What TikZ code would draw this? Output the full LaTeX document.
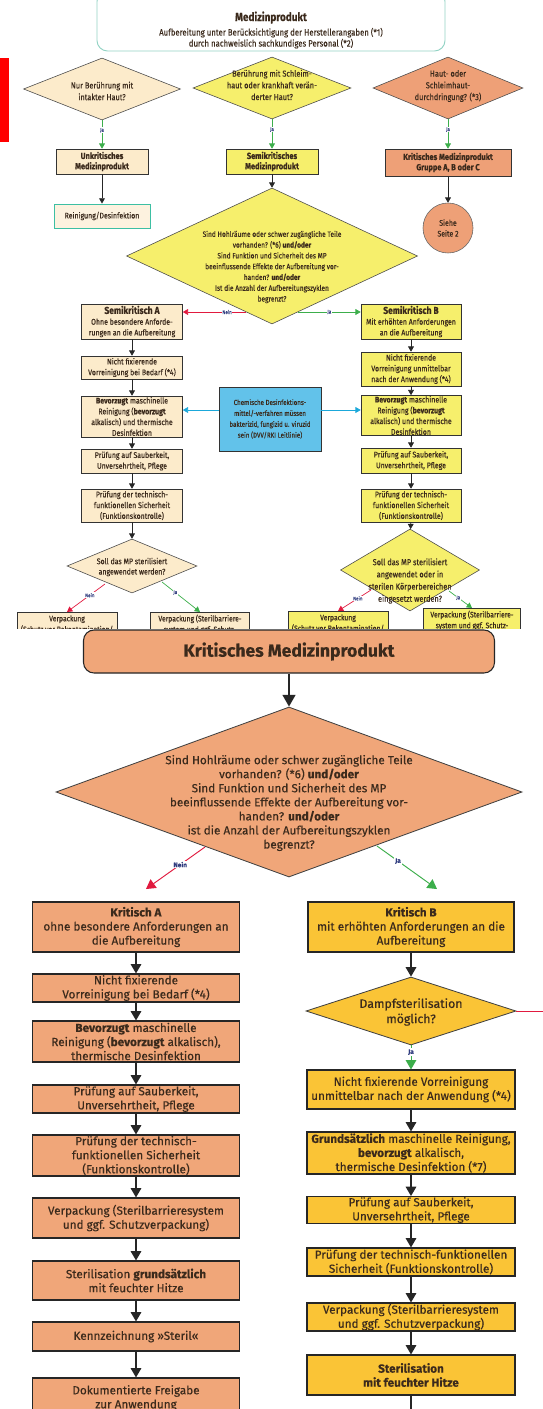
\documentclass[tikz,border=0pt]{standalone}
\usepackage{fontspec}
\setmainfont{Fira Sans}[FakeBold=0.35]
\newfontfamily\condfont[FakeStretch=0.85,FakeBold=0.35]{Fira Sans}
\usetikzlibrary{shapes.geometric,arrows.meta}

\definecolor{txt}{HTML}{3B2A1C}
\definecolor{beige}{HTML}{FCEBCB}
\definecolor{beigel}{HTML}{FDF2DF}
\definecolor{yel}{HTML}{F6EF6C}
\definecolor{salm}{HTML}{EEA077}
\definecolor{salmb}{HTML}{F0A679}
\definecolor{gold}{HTML}{FAC436}
\definecolor{blu}{HTML}{62C2EA}
\definecolor{cyn}{HTML}{1BA8DA}
\definecolor{teall}{HTML}{93D3C4}
\definecolor{teald}{HTML}{3DBFA3}
\definecolor{nred}{HTML}{E11A3F}
\definecolor{ngreen}{HTML}{3CAE4B}
\definecolor{labc}{HTML}{2E3B7E}

\begin{document}
\begin{tikzpicture}[x=0.03cm,y=-0.03cm,
    sz/.style 2 args={minimum width=#1*0.03cm,minimum height=#2*0.03cm},
    sbox/.style={draw=black!80,line width=0.5pt,inner sep=0.5pt,align=center,text=txt,
      font=\condfont\fontsize{7}{9.2}\selectfont},
    lbox/.style={draw=black!85,line width=0.9pt,inner sep=0.5pt,align=center,text=txt,
      font=\fontsize{10}{12}\selectfont},
    dia/.style={diamond,draw=black!70,line width=0.5pt,inner sep=0pt},
    stxt/.style={align=center,text=txt,inner sep=0pt,font=\condfont\fontsize{7}{9.2}\selectfont},
    ltxt/.style={align=center,text=txt,inner sep=0pt,font=\fontsize{10}{12}\selectfont},
    sarr/.style={-{Triangle[width=5pt,length=4.5pt]},line width=0.6pt,draw=black!85},
    sno/.style={sarr,draw=nred},
    sja/.style={sarr,draw=ngreen},
    scy/.style={sarr,draw=cyn},
    larr/.style={-{Triangle[width=9pt,length=8pt]},line width=1.2pt,draw=black!85},
    lno/.style={-{Triangle[width=9pt,length=8pt]},line width=0.8pt,draw=nred},
    lja/.style={-{Triangle[width=9pt,length=8pt]},line width=0.8pt,draw=ngreen},
    lab/.style={fill=white,inner sep=0.6pt,text=labc,font=\condfont\fontsize{4.5}{5}\selectfont},
    blab/.style={fill=white,inner sep=0.8pt,text=labc,font=\fontsize{5.5}{6}\selectfont\bfseries}]
  \useasboundingbox (0,0) rectangle (543,1409);
  \fill[red] (0,58) rectangle (9,142);

  \node[draw=teall,line width=0.8pt,rounded corners=9pt,sz={348}{60}] (mp) at (271,21) {};
  \node[stxt,font=\condfont\fontsize{7.8}{9.4}\selectfont] (mpt) at (271,30)
    {{\fontsize{10}{12}\selectfont\bfseries Medizinprodukt}\\[3pt]Aufbereitung unter Berücksichtigung der Herstellerangaben (*1)\\durch nachweislich sachkundiges Personal (*2)};

  \node[dia,fill=beige,sz={157}{62}] (d1) at (102,89) {};
  \node[stxt,font=\condfont\fontsize{7.4}{10}\selectfont] (d1t) at (102,91) {Nur Berührung mit\\intakter Haut?};
  \node[dia,fill=yel,sz={158}{62}] (d2) at (272,88) {};
  \node[stxt,font=\condfont\fontsize{7.4}{10}\selectfont] (d2t) at (272,85) {Berührung mit Schleim-\\haut oder krankhaft verän-\\derter Haut?};
  \node[dia,fill=salm,sz={150}{62}] (d3) at (448,88) {};
  \node[stxt,font=\condfont\fontsize{7.4}{10}\selectfont] (d3t) at (448,86) {Haut- oder\\Schleimhaut-\\durchdringung? (*3)};

  \node[sbox,fill=beige,sz={92}{25},font=\condfont\fontsize{7.5}{8.8}\selectfont\bfseries] (uk) at (102,161.5) {Unkritisches\\Medizinprodukt};
  \node[sbox,draw=teald,line width=0.8pt,fill=beigel,sz={96}{24}] (rd) at (102,216) {Reinigung/Desinfektion};
  \node[sbox,fill=yel,sz={92}{25},font=\condfont\fontsize{7.5}{8.8}\selectfont\bfseries] (sk) at (272,161.5) {Semikritisches\\Medizinprodukt};
  \node[sbox,fill=salm,sz={126}{27},font=\condfont\fontsize{7.5}{8.8}\selectfont\bfseries] (kg) at (448,162.5) {Kritisches Medizinprodukt\\Gruppe A, B oder C};
  \node[circle,draw=black!60,line width=0.5pt,fill=salm,minimum size=50*0.03cm,inner sep=0pt,align=center,text=txt,
    font=\condfont\fontsize{7}{9.2}\selectfont] (ci) at (448,228) {Siehe\\Seite 2};

  \draw[sja] (d1) -- node[lab,pos=0.35] {Ja} (uk);
  \draw[sja] (d2) -- node[lab,pos=0.35] {Ja} (sk);
  \draw[sja] (d3) -- node[lab,pos=0.35] {Ja} (kg);
  \draw[sarr] (uk) -- (rd);
  \draw[sarr] (kg) -- (ci);

  \node[dia,fill=yel,sz={291}{136}] (q1) at (272,256) {};
  \node[stxt,font=\condfont\fontsize{6.6}{9.2}\selectfont] (q1t) at (272,267)
    {Sind Hohlräume oder schwer zugängliche Teile\\vorhanden? (*6) \textbf{und/oder}\\Sind Funktion und Sicherheit des MP\\beeinflussende Effekte der Aufbereitung vor-\\handen? \textbf{und/oder}\\Ist die Anzahl der Aufbereitungszyklen\\begrenzt?};
  \draw[sarr] (sk) -- (q1);

  \node[sbox,fill=beige,sz={101}{35}] (sema) at (132,321.5) {{\fontsize{8.5}{9.5}\selectfont\bfseries Semikritisch A}\\Ohne besondere Anforde-\\rungen an die Aufbereitung};
  \node[sbox,fill=beige,sz={101}{23}] (vora) at (132,367.5) {Nicht fixierende\\Vorreinigung bei Bedarf (*4)};
  \node[sbox,fill=beige,sz={101}{41}] (beva) at (132,416.5) {\textbf{Bevorzugt} maschinelle\\Reinigung (\textbf{bevorzugt}\\alkalisch) und thermische\\Desinfektion};
  \node[sbox,fill=beige,sz={101}{24}] (prua) at (132,461) {Prüfung auf Sauberkeit,\\Unversehrtheit, Pflege};
  \node[sbox,fill=beige,sz={101}{33}] (teca) at (132,505.5) {Prüfung der technisch-\\funktionellen Sicherheit\\(Funktionskontrolle)};

  \node[sbox,fill=yel,sz={100}{35}] (semb) at (411,321.5) {{\fontsize{8.5}{9.5}\selectfont\bfseries Semikritisch B}\\Mit erhöhten Anforderungen\\an die Aufbereitung};
  \node[sbox,fill=yel,sz={100}{34}] (vorb) at (411,369) {Nicht fixierende\\Vorreinigung unmittelbar\\nach der Anwendung (*4)};
  \node[sbox,fill=yel,sz={100}{39}] (bevb) at (411,415.5) {\textbf{Bevorzugt} maschinelle\\Reinigung (\textbf{bevorzugt}\\alkalisch) und thermische\\Desinfektion};
  \node[sbox,fill=yel,sz={100}{25}] (prub) at (411,460.5) {Prüfung auf Sauberkeit,\\Unversehrtheit, Pflege};
  \node[sbox,fill=yel,sz={100}{33}] (tecb) at (411,505.5) {Prüfung der technisch-\\funktionellen Sicherheit\\(Funktionskontrolle)};

  \node[sbox,fill=blu,sz={102}{64},font=\condfont\fontsize{6.2}{9.3}\selectfont] (blu) at (270,419) {Chemische Desinfektions-\\mittel/-verfahren müssen\\bakterizid, fungizid u. viruzid\\sein (DVV/RKI Leitlinie)};

  \coordinate (q1n) at (246,312);
  \coordinate (q1j) at (298,312);
  \draw[sno] (q1n) -- node[lab,pos=0.3] {Nein} (q1n -| sema.east);
  \draw[sja] (q1j) -- node[lab,pos=0.5] {Ja} (q1j -| semb.west);
  \coordinate (cy) at (270,410);
  \draw[scy] (cy -| blu.west) -- (cy -| beva.east);
  \draw[scy] (cy -| blu.east) -- (cy -| bevb.west);
  \foreach \a/\b in {sema/vora,vora/beva,beva/prua,prua/teca,semb/vorb,vorb/bevb,bevb/prub,prub/tecb}
    \draw[sarr] (\a) -- (\b);

  \node[dia,fill=beige,sz={130}{54}] (d4) at (132,566) {};
  \node[stxt,font=\condfont\fontsize{7}{8.8}\selectfont] (d4t) at (132,567) {Soll das MP sterilisiert\\angewendet werden?};
  \node[dia,fill=yel,sz={139}{82}] (d5) at (410,570) {};
  \node[stxt,font=\condfont\fontsize{7.4}{10.4}\selectfont] (d5t) at (410,581) {Soll das MP sterilisiert\\angewendet oder in\\sterilen Körperbereichen\\eingesetzt werden?};
  \draw[sarr] (teca) -- (d4);
  \draw[sarr] (tecb) -- (d5);

  \node[sbox,fill=beige,anchor=north,sz={100}{24},font=\condfont\fontsize{6.8}{9.2}\selectfont] (vpa1) at (67,612) {Verpackung\\(Schutz vor Rekontamination/};
  \node[sbox,fill=beige,anchor=north,sz={99}{24},font=\condfont\fontsize{6.8}{9.2}\selectfont] (vpa2) at (200,612) {Verpackung (Sterilbarriere-\\system und ggf. Schutz-};
  \node[sbox,fill=yel,anchor=north,sz={100}{24},font=\condfont\fontsize{6.8}{9.2}\selectfont] (vpb1) at (338,611) {Verpackung\\(Schutz vor Rekontamination/};
  \node[sbox,fill=yel,anchor=north,sz={97}{24},font=\condfont\fontsize{6.8}{9.2}\selectfont] (vpb2) at (472,608) {Verpackung (Sterilbarriere-\\system und ggf. Schutz-};
  \coordinate (d4n) at (105,584);
  \coordinate (d4j) at (162,582);
  \coordinate (d5n) at (371,590);
  \coordinate (d5j) at (449,591);
  \draw[sno] (d4n) -- node[lab,pos=0.4] {Nein} (vpa1.north);
  \draw[sja] (d4j) -- node[lab,pos=0.35] {Ja} (vpa2.north);
  \draw[sno] (d5n) -- node[lab,pos=0.4] {Nein} (vpb1.north);
  \draw[sja] (d5j) -- node[lab,pos=0.4] {Ja} (vpb2.north);

  \fill[white] (0,629) rectangle (543,1409);

  \node[lbox,fill=salmb,rounded corners=9pt,sz={411}{43},font=\fontsize{15}{18}\selectfont\bfseries] (kr) at (289,651.5) {Kritisches Medizinprodukt};
  \node[dia,fill=salmb,draw=black!75,line width=0.7pt,sz={466}{170}] (q2) at (289,792) {};
  \node[ltxt] (q2t) at (289,803)
    {Sind Hohlräume oder schwer zugängliche Teile\\vorhanden? (*6) \textbf{und/oder}\\Sind Funktion und Sicherheit des MP\\beeinflussende Effekte der Aufbereitung vor-\\handen? \textbf{und/oder}\\ist die Anzahl der Aufbereitungszyklen\\begrenzt?};
  \draw[-{Triangle[width=11pt,length=10pt]},line width=1.2pt,draw=black!85] (kr) -- (q2);

  \node[lbox,fill=salmb,sz={207}{50}] (ka) at (136,927) {\textbf{Kritisch A}\\ohne besondere Anforderungen an\\die Aufbereitung};
  \node[lbox,fill=gold,sz={206}{50}] (kb) at (411,927) {\textbf{Kritisch B}\\mit erhöhten Anforderungen an die\\Aufbereitung};
  \coordinate (q2n) at (205,847);
  \coordinate (kan) at (146,889);
  \coordinate (q2j) at (377,846);
  \coordinate (kbn) at (437,889);
  \draw[lno] (q2n) -- node[blab,pos=0.42] {Nein} (kan);
  \draw[lja] (q2j) -- node[blab,pos=0.35] {Ja} (kbn);

  \node[lbox,fill=salmb,sz={207}{28}] (la1) at (136,988) {Nicht fixierende\\Vorreinigung bei Bedarf (*4)};
  \node[lbox,fill=salmb,sz={207}{41}] (la2) at (136,1041.5) {\textbf{Bevorzugt} maschinelle\\Reinigung (\textbf{bevorzugt} alkalisch),\\thermische Desinfektion};
  \node[lbox,fill=salmb,sz={207}{28}] (la3) at (136,1099) {Prüfung auf Sauberkeit,\\Unversehrtheit, Pflege};
  \node[lbox,fill=salmb,sz={207}{41}] (la4) at (136,1155.5) {Prüfung der technisch-\\funktionellen Sicherheit\\(Funktionskontrolle)};
  \node[lbox,fill=salmb,sz={207}{40}] (la5) at (136,1218) {Verpackung (Sterilbarrieresystem\\und ggf. Schutzverpackung)};
  \node[lbox,fill=salmb,sz={207}{39}] (la6) at (136,1280.5) {Sterilisation \textbf{grundsätzlich}\\mit feuchter Hitze};
  \node[lbox,fill=salmb,sz={207}{29}] (la7) at (136,1336.5) {Kennzeichnung »Steril«};
  \node[lbox,fill=salmb,sz={207}{40}] (la8) at (136,1398) {Dokumentierte Freigabe\\zur Anwendung};
  \foreach \a/\b in {ka/la1,la1/la2,la2/la3,la3/la4,la4/la5,la5/la6,la6/la7,la7/la8}
    \draw[larr] (\a) -- (\b);

  \node[dia,fill=gold,draw=black!75,line width=0.7pt,sz={210}{68}] (dp) at (411,1011) {};
  \node[ltxt,font=\fontsize{10.5}{13}\selectfont] (dpt) at (411,1012) {Dampfsterilisation\\möglich?};
  \coordinate (dpr) at (560,1011);
  \draw[lno,-] (dp.east) -- (dpr);
  \node[lbox,fill=gold,sz={208}{39}] (rb1) at (411,1089.5) {Nicht fixierende Vorreinigung\\unmittelbar nach der Anwendung (*4)};
  \node[lbox,fill=gold,sz={208}{42}] (rb2) at (411,1153) {\textbf{Grundsätzlich} maschinelle Reinigung,\\\textbf{bevorzugt} alkalisch,\\thermische Desinfektion (*7)};
  \node[lbox,fill=gold,sz={208}{26}] (rb3) at (411,1210) {Prüfung auf Sauberkeit,\\Unversehrtheit, Pflege};
  \node[lbox,fill=gold,sz={208}{28}] (rb4) at (411,1262) {Prüfung der technisch-funktionellen\\Sicherheit (Funktionskontrolle)};
  \node[lbox,fill=gold,sz={208}{28}] (rb5) at (411,1317) {Verpackung (Sterilbarrieresystem\\und ggf. Schutzverpackung)};
  \node[lbox,fill=gold,sz={208}{40}] (rb6) at (411,1375) {\textbf{Sterilisation}\\\textbf{mit feuchter Hitze}};
  \coordinate (rend) at (411,1422);
  \draw[larr] (kb) -- (dp);
  \draw[lja] (dp) -- node[blab,pos=0.28] {Ja} (rb1);
  \foreach \a/\b in {rb1/rb2,rb2/rb3,rb3/rb4,rb4/rb5,rb5/rb6,rb6/rend}
    \draw[larr] (\a) -- (\b);
\end{tikzpicture}
\end{document}
